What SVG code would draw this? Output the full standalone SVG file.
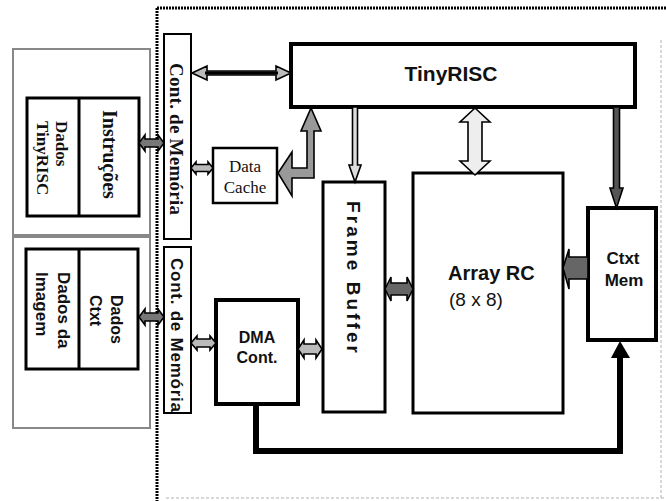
<svg xmlns="http://www.w3.org/2000/svg" width="666" height="501" viewBox="0 0 666 501">
<style>
.box{fill:#fff;stroke:#000}
.outer{fill:#fff;stroke:#888;stroke-width:2}
.sans{font-family:"Liberation Sans",Arial,sans-serif;font-weight:bold;fill:#111}
.serif{font-family:"Liberation Serif","Times New Roman",serif;fill:#111}
.arr{stroke:#000;stroke-width:1.6;stroke-linejoin:miter}
</style>
<rect width="666" height="501" fill="#fff"/>
<g id="boundary" fill="none">
<line x1="157" y1="8" x2="157" y2="501" stroke="#000" stroke-width="3" stroke-dasharray="2 1"/>
<line x1="157" y1="8" x2="666" y2="8" stroke="#000" stroke-width="3" stroke-dasharray="2 1"/>
<line x1="661" y1="40" x2="661" y2="498" stroke="#ccc" stroke-width="1.5" stroke-dasharray="3 2"/>
<line x1="166" y1="498" x2="666" y2="498" stroke="#ccc" stroke-width="1.5" stroke-dasharray="3 2"/>
</g>
<g id="mem1">
<rect class="outer" x="13" y="49" width="137" height="186"/>
<rect class="box" x="27" y="98" width="112" height="118" stroke-width="3"/>
<line x1="79" y1="98" x2="79" y2="216" stroke="#000" stroke-width="3"/>
<text class="serif" font-weight="bold" font-size="17" transform="translate(62,121) rotate(90)" y="6">Dados</text>
<text class="serif" font-weight="bold" font-size="17" transform="translate(43,121) rotate(90)" y="6">TinyRISC</text>
<text class="serif" font-weight="bold" font-size="20" transform="translate(110,110) rotate(90)" y="7">Instruções</text>
</g>
<g id="mem2">
<rect class="outer" x="13" y="237" width="137" height="191"/>
<rect class="box" x="26" y="249" width="112" height="120" stroke-width="3"/>
<line x1="79" y1="249" x2="79" y2="369" stroke="#000" stroke-width="3"/>
<text class="sans" font-size="16" transform="translate(117,295) rotate(90)" y="6">Dados</text>
<text class="sans" font-size="16" transform="translate(96,295) rotate(90)" y="6">Ctxt</text>
<text class="sans" font-size="17" transform="translate(64,272) rotate(90)" y="6">Dados da</text>
<text class="sans" font-size="17" transform="translate(42,272) rotate(90)" y="6">Imagem</text>
</g>
<g id="cont1">
<rect class="box" x="164" y="34" width="27" height="205" stroke-width="2"/>
<text class="serif" font-weight="bold" font-size="19" text-anchor="middle" transform="translate(177,139) rotate(90)" y="7" textLength="152" lengthAdjust="spacing">Cont. de Memória</text>
</g>
<g id="cont2">
<rect class="box" x="164" y="247" width="27" height="166" stroke-width="2"/>
<text class="sans" font-size="17" text-anchor="middle" transform="translate(177,335) rotate(90)" y="6" textLength="154" lengthAdjust="spacing">Cont. de Memória</text>
</g>
<g id="datacache">
<rect class="box" x="213" y="148" width="64" height="55" stroke-width="2.5"/>
<text class="serif" font-size="17" text-anchor="middle" x="245" y="172">Data</text>
<text class="serif" font-size="17" text-anchor="middle" x="245" y="193">Cache</text>
</g>
<g id="tinyrisc">
<rect class="box" x="291" y="44" width="344" height="63" stroke-width="4"/>
<text class="sans" font-size="21" text-anchor="middle" x="451" y="81">TinyRISC</text>
</g>
<g id="framebuffer">
<rect class="box" x="323" y="182" width="62" height="230" stroke-width="3"/>
<text class="sans" font-size="19" text-anchor="middle" transform="translate(354,277) rotate(90)" y="7" textLength="152" lengthAdjust="spacing">Frame Buffer</text>
</g>
<g id="arrayrc">
<rect class="box" x="413" y="173" width="150" height="240" stroke-width="3"/>
<text class="sans" font-size="20" x="448" y="280">Array RC</text>
<text class="sans" font-size="19" x="449" y="306" style="font-weight:normal">(8 x 8)</text>
</g>
<g id="ctxtmem">
<rect class="box" x="588" y="208" width="68" height="132" stroke-width="4"/>
<text class="sans" font-size="17" text-anchor="middle" x="623" y="264">Ctxt</text>
<text class="sans" font-size="17" text-anchor="middle" x="624" y="286">Mem</text>
</g>
<g id="dma">
<rect class="box" x="216" y="300" width="82" height="104" stroke-width="4"/>
<text class="sans" font-size="16" text-anchor="middle" x="257" y="343">DMA</text>
<text class="sans" font-size="16" text-anchor="middle" x="257" y="363">Cont.</text>
</g>
<g id="connectors">
<polygon class="arr" fill="#777" points="139,143 145,135 145,139 158,139 158,135 164,143 158,151 158,147 145,147 145,151"/>
<polygon class="arr" fill="#bbb" points="191,168 196,162 196,164.5 208,164.5 208,162 213,168 208,174 208,171.5 196,171.5 196,174"/>
<polygon class="arr" fill="#bbb" points="192,73 207,66 207,71 276,71 276,66 291,73 276,80 276,75 207,75 207,80"/>
<line x1="205" y1="73" x2="278" y2="73" stroke="#000" stroke-width="3"/>
<polygon class="arr" fill="#999" stroke-width="2" points="311,108 321,131 314,131 314,178 292,178 292,196 278,173 292,152 292,168 307,168 307,131 301,131"/>
<polygon class="arr" fill="#ddd" points="352.5,107 357.5,107 357.5,165 361,165 355,182 349,165 352.5,165"/>
<polygon class="arr" fill="#eee" stroke-width="2" points="475,108 490,122 482,122 482,161 490,161 475,175 460,161 468,161 468,122 460,122"/>
<polygon class="arr" fill="#555" points="613.5,107 619.5,107 619.5,188 623,188 616.5,208 610,188 613.5,188"/>
<polygon class="arr" fill="#777" points="139,317 145,309 145,313 158,313 158,309 164,317 158,325 158,321 145,321 145,325"/>
<polygon class="arr" fill="#bbb" points="191,343 197,336 197,339 210,339 210,336 216,343 210,350 210,347 197,347 197,350"/>
<polygon class="arr" fill="#bbb" points="298,349 304,340 304,344 316,344 316,340 322,349 316,358 316,354 304,354 304,358"/>
<polygon class="arr" fill="#666" points="385,289 391,277 391,283 407,283 407,277 413,289 407,301 407,295 391,295 391,301"/>
<polygon class="arr" fill="#666" points="588,257 569,257 569,249 563,268 569,289 569,279 588,279"/>
<polyline points="256,404 256,451 620,451 620,356" fill="none" stroke="#000" stroke-width="6"/>
<polygon points="620,341 630,358 611,358" fill="#000"/>
</g>
</svg>
